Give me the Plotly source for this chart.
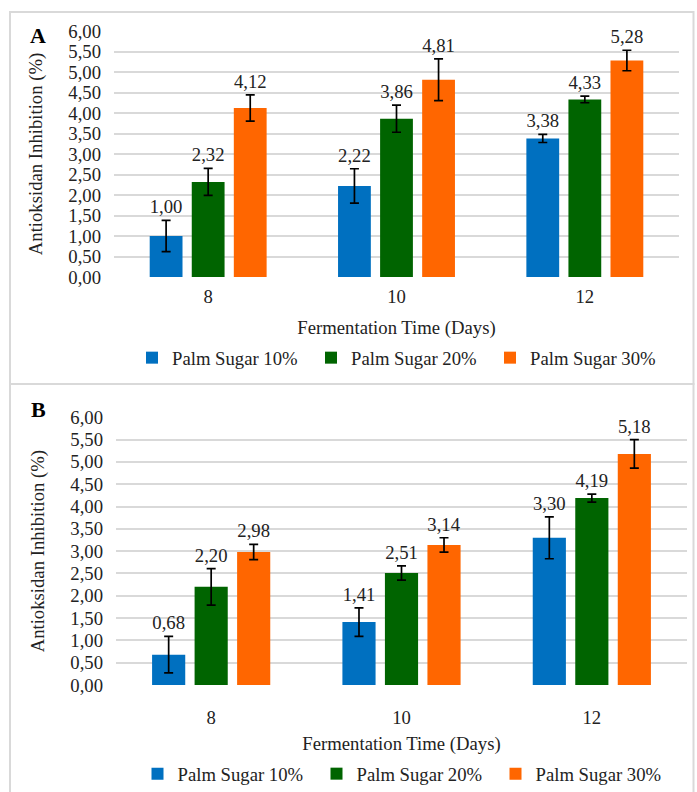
import plotly.graph_objects as go

days = ["8", "10", "12"]
series = ["Palm Sugar 10%", "Palm Sugar 20%", "Palm Sugar 30%"]
colors = ["#0070C0", "#006400", "#FF6600"]

# Panel A
a_values = [[1.00, 2.22, 3.38], [2.32, 3.86, 4.33], [4.12, 4.81, 5.28]]
a_errors = [[0.38, 0.42, 0.10], [0.33, 0.33, 0.08], [0.32, 0.51, 0.25]]
# Panel B
b_values = [[0.68, 1.41, 3.30], [2.20, 2.51, 4.19], [2.98, 3.14, 5.18]]
b_errors = [[0.41, 0.32, 0.47], [0.41, 0.16, 0.09], [0.17, 0.16, 0.32]]

y_title = "Antioksidan Inhibition (%)"
x_title = "Fermentation Time (Days)"

FONT = "Liberation Serif"
FS = 18.7
TXT = "#222222"
W, H = 697, 792


def px_x(p):
    return p / W


def px_y(p):
    return 1 - p / H


def fmt(v):
    return f"{v:.2f}".replace(".", ",")


fig = go.Figure()

panels = [
    (a_values, a_errors, "x", "y", "legend"),
    (b_values, b_errors, "x2", "y2", "legend2"),
]
for values, errors, xa, ya, leg in panels:
    for i, name in enumerate(series):
        fig.add_trace(go.Bar(
            x=days, y=values[i], name=name, xaxis=xa, yaxis=ya,
            offsetgroup=str(i), legend=leg,
            marker=dict(color=colors[i], line=dict(width=0)),
            error_y=dict(type="data", array=errors[i], color="black",
                         thickness=1.7, width=4.5),
            hoverinfo="skip",
        ))
    for i, name in enumerate(series):
        tops = [v + e for v, e in zip(values[i], errors[i])]
        fig.add_trace(go.Bar(
            x=days, y=tops, xaxis=xa, yaxis=ya, offsetgroup=str(i),
            marker=dict(color="rgba(0,0,0,0)", line=dict(width=0)),
            text=[fmt(v) for v in values[i]], textposition="outside",
            constraintext="none", cliponaxis=False,
            textfont=dict(family=FONT, size=FS, color=TXT),
            showlegend=False, hoverinfo="skip",
        ))

axis_common_x = dict(
    showgrid=False, zeroline=False, showline=False, ticks="",
    tickfont=dict(family=FONT, size=FS, color=TXT),
    title=dict(text=x_title, font=dict(family=FONT, size=FS, color=TXT)),
)
axis_common_y = dict(
    range=[0, 6], dtick=0.5, tick0=0, tickformat=".2f",
    showgrid=True, gridcolor="#d9d9d9", gridwidth=1.6,
    zeroline=False, showline=False, ticks="",
    tickfont=dict(family=FONT, size=FS, color=TXT),
    ticklabelstandoff=12,
    title=dict(text=y_title, font=dict(family=FONT, size=FS, color=TXT),
               standoff=20),
)

legend_common = dict(
    orientation="h", xanchor="left", yanchor="middle", entrywidth=134,
    font=dict(family=FONT, size=FS, color=TXT), bgcolor="rgba(0,0,0,0)",
)

fig.update_layout(
    width=W, height=H, autosize=False,
    margin=dict(l=0, r=0, t=0, b=0, autoexpand=False),
    paper_bgcolor="white", plot_bgcolor="white",
    separators=",.",
    barmode="group", bargap=0.33, bargroupgap=0.22,
    font=dict(family=FONT, size=FS, color=TXT),
    xaxis=dict(axis_common_x, domain=[px_x(114), px_x(679)], anchor="y",
               ticklabelstandoff=6, title_standoff=15),
    yaxis=dict(axis_common_y, domain=[px_y(277), px_y(31)], anchor="x"),
    xaxis2=dict(axis_common_x, domain=[px_x(116), px_x(687)], anchor="y2",
                ticklabelstandoff=19, title_standoff=10),
    yaxis2=dict(axis_common_y, domain=[px_y(685), px_y(417.3)], anchor="x2"),
    legend=dict(legend_common, x=px_x(132), y=px_y(358)),
    legend2=dict(legend_common, x=px_x(137.5), y=px_y(774)),
    showlegend=True,
    shapes=[
        dict(type="rect", xref="paper", yref="paper",
             x0=px_x(10), x1=px_x(693.5), y0=px_y(384), y1=px_y(12),
             line=dict(color="#d9d9d9", width=2), layer="below"),
        dict(type="rect", xref="paper", yref="paper",
             x0=px_x(10), x1=px_x(693.5), y0=px_y(800), y1=px_y(384),
             line=dict(color="#d9d9d9", width=2), layer="below"),
    ],
    annotations=[
        dict(text="<b>A</b>", xref="paper", yref="paper", x=px_x(38), y=px_y(35),
             xanchor="center", yanchor="middle", showarrow=False,
             font=dict(family=FONT, size=22, color="black")),
        dict(text="<b>B</b>", xref="paper", yref="paper", x=px_x(38), y=px_y(410),
             xanchor="center", yanchor="middle", showarrow=False,
             font=dict(family=FONT, size=22, color="black")),
    ],
)

fig.write_html(
    "out.html",
    config={"displayModeBar": False},
    post_script="document.body.style.margin='0';document.body.style.overflow='hidden';",
)
